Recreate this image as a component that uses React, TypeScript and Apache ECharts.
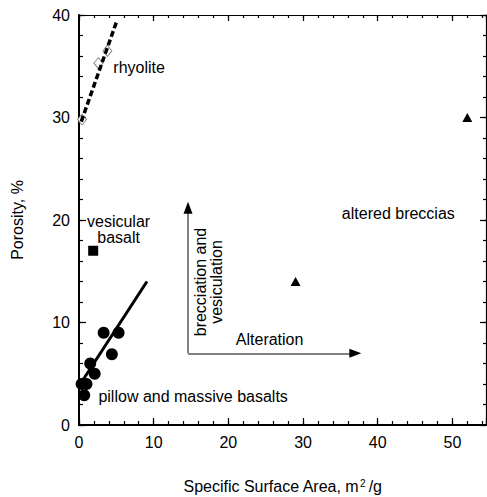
import React, { useEffect, useRef } from "react";
import * as echarts from "echarts";

// ---- data ----
const rhyolitePoints: [number, number][] = [
  [0.4, 29.8],
  [2.6, 35.3],
  [3.8, 36.5],
];
const rhyoliteTrend: [number, number][] = [
  [0.3, 29.6],
  [5.1, 39.5],
];
const pillowBasalts: [number, number][] = [
  [3.3, 9.0],
  [5.3, 9.0],
  [4.4, 6.9],
  [1.5, 6.0],
  [2.1, 5.0],
  [0.35, 4.0],
  [1.0, 4.0],
  [0.7, 2.9],
];
const basaltTrend: [number, number][] = [
  [0.0, 3.8],
  [9.1, 14.0],
];
const vesicularBasalt: [number, number][] = [[1.9, 17.0]];
const alteredBreccias: [number, number][] = [
  [29.0, 14.0],
  [52.0, 30.0],
];

// arrows (data coordinates): origin, top of vertical, end of horizontal
const arrowOrigin: [number, number] = [14.6, 7.0];
const arrowUpEnd: [number, number] = [14.6, 21.2];
const arrowRightEnd: [number, number] = [37.0, 7.0];

// annotation texts
const annotationTexts = [
  "rhyolite",
  "vesicular\nbasalt",
  "altered breccias",
  "Alteration",
  "brecciation and\nvesiculation",
  "pillow and massive basalts",
];
const annotationAnchors: [number, number][] = [
  [4.6, 34.9],
  [5.3, 19.1],
  [35.2, 20.6],
  [21.0, 8.3],
  [17.4, 13.95],
  [2.6, 2.76],
];
const annotationAlign = ["left", "center", "left", "left", "center", "left"];
const annotationRotate = [0, 0, 0, 0, 90, 0];

const X_MIN = 0;
const X_MAX = 54.5;
const Y_MIN = 0;
const Y_MAX = 40;
const MAJOR = 10;
const MINOR = 2;
const xTitle = "Specific Surface Area, m{sup|2}/g";
const yTitle = "Porosity, %";

const FONT = "'Liberation Sans', Arial, Helvetica, sans-serif";

export default function App() {
  const ref = useRef<HTMLDivElement>(null);

  useEffect(() => {
    if (!ref.current) return;
    const chart = echarts.init(ref.current, undefined, { renderer: "svg" });

    const txt = { fontFamily: FONT, fontSize: 16, color: "#000" };

    const mkX = (pos: "top" | "bottom", major: boolean) => ({
      type: "value",
      position: pos,
      min: X_MIN,
      max: X_MAX,
      interval: major ? MAJOR : MINOR,
      axisLine: {
        show: major,
        onZero: false,
        lineStyle: { color: "#000", width: pos === "bottom" ? 2 : 1.2 },
      },
      axisTick: {
        show: true,
        inside: true,
        length: major ? (pos === "bottom" ? 7 : 6) : pos === "bottom" ? 4 : 3,
        lineStyle: { color: "#000", width: 1.2 },
      },
      axisLabel: {
        show: major && pos === "bottom",
        ...txt,
        margin: 9,
        formatter: (v: number) => (v % MAJOR === 0 ? String(v) : ""),
      },
      splitLine: { show: false },
      ...(major && pos === "bottom"
        ? {
            name: xTitle,
            nameLocation: "middle",
            nameGap: 53,
            nameTextStyle: {
              ...txt,
              rich: {
                sup: {
                  fontFamily: FONT,
                  fontSize: 10,
                  color: "#000",
                  verticalAlign: "top",
                  padding: [0, 3, 0, 1],
                },
              },
            },
          }
        : {}),
    });

    const mkY = (pos: "left" | "right", major: boolean) => ({
      type: "value",
      position: pos,
      min: Y_MIN,
      max: Y_MAX,
      interval: major ? MAJOR : MINOR,
      axisLine: {
        show: major,
        onZero: false,
        lineStyle: { color: "#000", width: pos === "left" ? 2 : 1.2 },
      },
      axisTick: {
        show: true,
        inside: true,
        length: major ? (pos === "left" ? 7 : 6) : pos === "left" ? 4 : 3,
        lineStyle: { color: "#000", width: 1.2 },
      },
      axisLabel: { show: major && pos === "left", ...txt, margin: 9 },
      splitLine: { show: false },
      ...(major && pos === "left"
        ? {
            name: yTitle,
            nameLocation: "middle",
            nameGap: 54,
            nameTextStyle: { ...txt },
          }
        : {}),
    });

    const annotations = annotationTexts.map((t, i) => ({
      value: annotationAnchors[i],
      label: {
        formatter: t,
        align: annotationAlign[i],
        rotate: annotationRotate[i],
      },
    }));

    chart.setOption({
      animation: false,
      backgroundColor: "#fff",
      grid: {
        left: 79,
        right: 1,
        top: 15,
        bottom: 72,
        containLabel: false,
        outerBoundsMode: "none",
      },
      xAxis: [mkX("bottom", true), mkX("bottom", false), mkX("top", true), mkX("top", false)],
      yAxis: [mkY("left", true), mkY("left", false), mkY("right", true), mkY("right", false)],
      series: [
        {
          name: "rhyolite",
          type: "scatter",
          data: rhyolitePoints,
          symbol: "diamond",
          symbolSize: [9, 11],
          itemStyle: { color: "#fff", borderColor: "#888", borderWidth: 1, opacity: 1 },
          silent: true,
        },
        {
          name: "rhyolite trend",
          type: "line",
          data: rhyoliteTrend,
          showSymbol: false,
          symbol: "none",
          lineStyle: { color: "#000", width: 3.5, type: [6, 3] },
          silent: true,
        },
        {
          name: "pillow and massive basalts",
          type: "scatter",
          data: pillowBasalts,
          symbol: "circle",
          symbolSize: 12,
          itemStyle: { color: "#000", opacity: 1 },
          silent: true,
        },
        {
          name: "basalt trend",
          type: "line",
          data: basaltTrend,
          showSymbol: false,
          symbol: "none",
          lineStyle: { color: "#000", width: 3 },
          silent: true,
        },
        {
          name: "vesicular basalt",
          type: "scatter",
          data: vesicularBasalt,
          symbol: "rect",
          symbolSize: 10,
          itemStyle: { color: "#000", opacity: 1 },
          silent: true,
        },
        {
          name: "altered breccias",
          type: "scatter",
          data: alteredBreccias,
          symbol: "triangle",
          symbolSize: [10, 9],
          itemStyle: { color: "#000", opacity: 1 },
          silent: true,
        },
        {
          name: "arrows",
          type: "line",
          data: [],
          silent: true,
          markLine: {
            silent: true,
            symbol: ["none", "none"],
            label: { show: false },
            lineStyle: { color: "#808080", width: 2, type: "solid" },
            data: [
              [{ coord: arrowOrigin }, { coord: arrowUpEnd }],
              [{ coord: arrowOrigin }, { coord: arrowRightEnd }],
            ],
          },
        },
        {
          name: "arrow heads",
          type: "line",
          data: [],
          silent: true,
          markLine: {
            silent: true,
            symbol: ["none", "triangle"],
            symbolSize: [9, 12],
            label: { show: false },
            lineStyle: { color: "#000", width: 1, type: "solid" },
            itemStyle: { color: "#000" },
            data: [
              [{ coord: [arrowUpEnd[0], arrowUpEnd[1] - 0.3] }, { coord: arrowUpEnd }],
              [{ coord: [arrowRightEnd[0] - 0.3, arrowRightEnd[1]] }, { coord: arrowRightEnd }],
            ],
          },
        },
        {
          name: "annotations",
          type: "scatter",
          data: annotations,
          symbolSize: 1,
          itemStyle: { color: "rgba(0,0,0,0)", opacity: 1 },
          silent: true,
          label: {
            show: true,
            position: "inside",
            fontFamily: FONT,
            fontSize: 16,
            color: "#000",
            lineHeight: 16,
          },
        },
      ],
    });

    return () => chart.dispose();
  }, []);

  return (
    <div
      ref={ref}
      style={{ position: "fixed", left: 0, top: 0, width: 487, height: 497, background: "#fff" }}
    />
  );
}
